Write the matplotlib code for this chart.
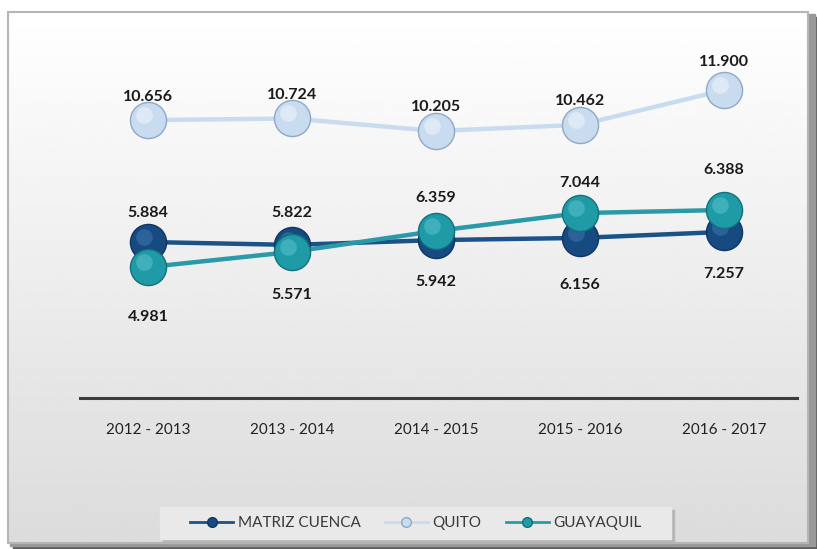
import numpy as np
import matplotlib
matplotlib.use("Agg")
import matplotlib.pyplot as plt
from matplotlib.patches import Rectangle

# categories and series
periods = ["2012 - 2013", "2013 - 2014", "2014 - 2015", "2015 - 2016", "2016 - 2017"]
series_names = ["MATRIZ CUENCA", "QUITO", "GUAYAQUIL"]

# plotted heights (labels in the source do not follow them)
cuenca_pos = [5.60, 5.48, 5.68, 5.77, 6.02]
quito_pos = [10.656, 10.724, 10.205, 10.462, 11.900]
guayaquil_pos = [4.56, 5.19, 6.06, 6.80, 6.93]

# data labels as printed in the chart
cuenca_lbl = ["5.884", "5.822", "5.942", "6.156", "7.257"]
quito_lbl = ["10.656", "10.724", "10.205", "10.462", "11.900"]
guayaquil_lbl = ["4.981", "5.571", "6.359", "7.044", "6.388"]

W, H = 817, 549
fig = plt.figure(figsize=(W / 100, H / 100), dpi=100)

# background: frame with gradient and shadow
bg = fig.add_axes([0, 0, 1, 1], zorder=0)
bg.set_xlim(0, W)
bg.set_ylim(H, 0)
bg.axis("off")
bg.add_patch(Rectangle((0, 0), W, H, color="white"))
# shadow on right / bottom
bg.add_patch(Rectangle((13, 17), W - 13, H - 17, color="#5e5e5e"))
bg.add_patch(Rectangle((10, 14), W - 12, H - 17, color="#999999"))
grad = np.linspace(1.0, 0.86, 256).reshape(-1, 1)
bg.imshow(grad, cmap="gray", vmin=0, vmax=1, aspect="auto",
          extent=(8, 808, 543, 12), zorder=2)
bg.add_patch(Rectangle((8, 12), 800, 531, fill=False, ec="#b5b5b5", lw=1.5, zorder=3))

ax = fig.add_axes([80 / W, 1 - 398 / H, 717 / W, (398 - 40) / H], zorder=2)
ax.patch.set_alpha(0)
x = np.arange(len(periods))
ax.set_xlim(-0.472, 4.507)
ax.set_ylim(-0.87, 13.98)

def sphere_line(vals, line_c, face_c, edge_c, hi_c, label, z):
    ax.plot(x, vals, color=line_c, lw=3.2, zorder=z, solid_capstyle="round")
    ax.plot(x, vals, ls="none", marker="o", ms=26, mfc=face_c, mec=edge_c,
            mew=1.0, zorder=z + 0.1)
    ax.plot(x - 0.025, np.array(vals) + 0.22, ls="none", marker="o", ms=12,
            mfc=hi_c, mec="none", alpha=0.4, zorder=z + 0.2)
    ax.plot([], [], color=line_c, lw=2, marker="o", ms=7, mfc=face_c,
            mec=edge_c, label=label)

sphere_line(cuenca_pos, "#1b5287", "#174a80", "#0e3560", "#4f86c0", series_names[0], 3)
sphere_line(quito_pos, "#c9dcef", "#c8dbef", "#8ea9c6", "#ffffff", series_names[1], 3)
sphere_line(guayaquil_pos, "#2a9aa8", "#1f9aa7", "#12707a", "#6fd0da", series_names[2], 4)

lbl_font = dict(fontsize=11.5, fontweight="bold", color="#1a1a1a",
                family="Lato", ha="center", va="center")

def put_labels(vals, labels, offsets):
    for i, (v, t) in enumerate(zip(vals, labels)):
        ax.annotate(t, (x[i], v), xytext=(0, offsets[i]),
                    textcoords="offset points", **lbl_font)

put_labels(quito_pos, quito_lbl, [17, 17, 17, 17, 20])
put_labels(cuenca_pos, cuenca_lbl, [21, 23, -30, -34, -30])
put_labels(guayaquil_pos, guayaquil_lbl, [-36, -31, 24, 22, 29])

for s in ["top", "left", "right"]:
    ax.spines[s].set_visible(False)
ax.spines["bottom"].set_color("#3c3c3c")
ax.spines["bottom"].set_linewidth(2.2)
ax.set_yticks([])
ax.set_xticks(x)
ax.set_xticklabels(periods, fontsize=11, family="Lato", color="#222222")
ax.tick_params(axis="x", length=0, pad=18)

# legend box with shadow
bg.add_patch(Rectangle((163, 510), 511, 33, color="#b5b5b5", zorder=4))
bg.add_patch(Rectangle((160, 507), 511, 32, color="#e9e9e9", zorder=5))
leg = fig.legend(loc="center", bbox_to_anchor=(416 / W, 1 - 523 / H), ncol=3,
                 frameon=False, handlelength=2.8, columnspacing=1.6,
                 handletextpad=0.3, prop=dict(family="Lato", size=11))
leg.set_zorder(6)
for t in leg.get_texts():
    t.set_color("#3a3a3a")

fig.savefig("out.png", dpi=100)
